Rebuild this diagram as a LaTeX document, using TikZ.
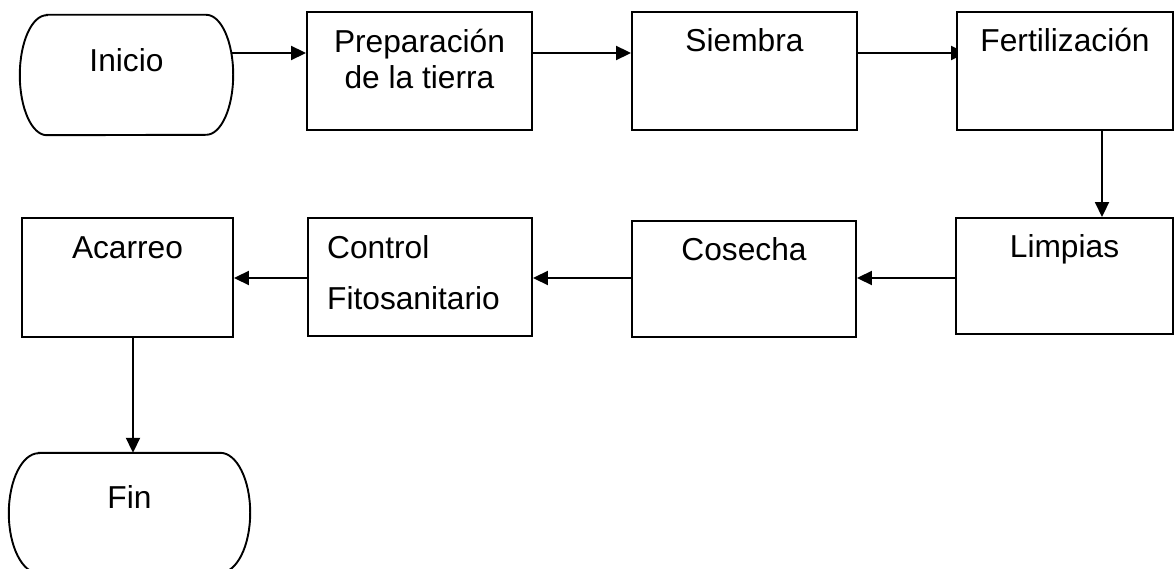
\documentclass[tikz,border=0pt]{standalone}
\usepackage{fontspec}
\setmainfont{Liberation Sans}
\usetikzlibrary{arrows.meta}
\pgfdeclarelayer{bg}
\pgfsetlayers{bg,main}
\begin{document}
\begin{tikzpicture}[x=1pt,y=1pt,
  box/.style={draw, fill=white, line width=1.9pt, inner sep=0pt, font=\fontsize{31.7}{36}\selectfont},
  term/.style={inner sep=0pt, font=\fontsize{31.7}{36}\selectfont},
  outline/.style={draw, fill=white, line width=1.9pt},
  arr/.style={line width=1.9pt, -{Triangle[length=15pt,width=14pt]}}]
\useasboundingbox (0,0) rectangle (1175,-569);

% terminator: Inicio
\node[term, minimum width=213pt, minimum height=120pt, text height=57pt, text depth=63pt] (inicio) at (126.5,-75) {};
\path[outline] ([xshift=27pt]inicio.north west) -- ([xshift=-27pt]inicio.north east)
  arc[start angle=90, end angle=-90, x radius=27pt, y radius=60pt]
  -- ([xshift=27pt]inicio.south west)
  arc[start angle=270, end angle=90, x radius=27pt, y radius=60pt] -- cycle;
\node[term, minimum width=213pt, minimum height=120pt, text height=57pt, text depth=63pt] at (inicio) {Inicio};

% terminator: Fin
\node[term, minimum width=241pt, minimum height=120pt, text height=55pt, text depth=65pt] (fin) at (129.5,-513) {};
\path[outline] ([xshift=30pt]fin.north west) -- ([xshift=-30pt]fin.north east)
  arc[start angle=90, end angle=-90, x radius=30pt, y radius=60pt]
  -- ([xshift=30pt]fin.south west)
  arc[start angle=270, end angle=90, x radius=30pt, y radius=60pt] -- cycle;
\node[term, minimum width=241pt, minimum height=120pt, text height=55pt, text depth=65pt] at (fin) {Fin};

% process boxes
\node[box, minimum width=225pt, minimum height=118pt, text height=41pt, text depth=77pt] (prep) at (419.5,-71)
  {\begin{tabular}[t]{@{}c@{}}Preparación\\de la tierra\end{tabular}};
\node[box, minimum width=225pt, minimum height=118pt, text height=40pt, text depth=78pt] (siembra) at (744.5,-71) {Siembra};
\node[box, minimum width=216pt, minimum height=118pt, text height=40pt, text depth=78pt] (fert) at (1065,-71) {Fertilización};
\node[box, minimum width=217pt, minimum height=116pt, text height=40pt, text depth=76pt] (limpias) at (1064.5,-276) {Limpias};
\node[box, minimum width=224pt, minimum height=116pt, text height=40pt, text depth=76pt] (cosecha) at (744,-279) {Cosecha};
\node[box, minimum width=224pt, minimum height=118pt, text height=41pt, text depth=77pt] (control) at (420,-277)
  {\begin{tabular}[t]{@{}l@{}}Control\\[15pt]Fitosanitario\end{tabular}\kern13pt};
\node[box, minimum width=211pt, minimum height=119pt, text height=41pt, text depth=78pt] (acarreo) at (127.5,-277.5) {Acarreo};

% connectors
\begin{pgfonlayer}{bg}
\draw[arr] ([xshift=-8pt,yshift=22pt]inicio.east) -- ([yshift=18pt]prep.west);
\draw[arr] ([yshift=18pt]prep.east) -- ([yshift=18pt]siembra.west);
\draw[arr] ([yshift=18pt]siembra.east) -- ([xshift=10pt,yshift=18pt]fert.west);
\draw[arr] ([xshift=37pt]fert.south) -- ([xshift=37.5pt]limpias.north);
\draw[arr] ([yshift=-2pt]limpias.west) -- ([yshift=1pt]cosecha.east);
\draw[arr] ([yshift=1pt]cosecha.west) -- ([yshift=-1pt]control.east);
\draw[arr] ([yshift=-1pt]control.west) -- ([yshift=-0.5pt]acarreo.east);
\draw[arr] ([xshift=5.5pt]acarreo.south) -- ([xshift=3.5pt]fin.north);
\end{pgfonlayer}
\end{tikzpicture}
\end{document}
